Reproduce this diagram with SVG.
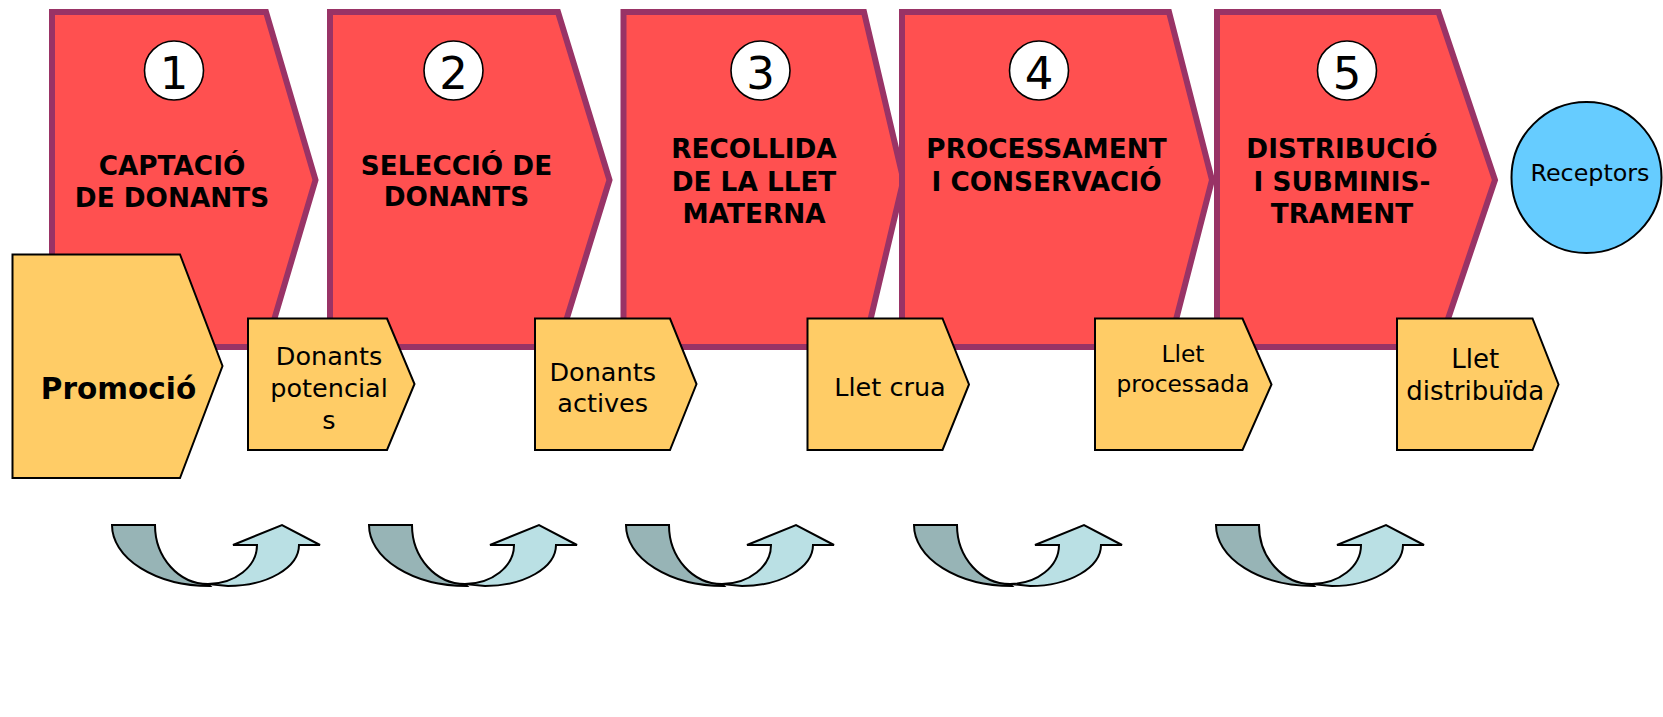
<svg xmlns="http://www.w3.org/2000/svg" xmlns:xlink="http://www.w3.org/1999/xlink" width="1663" height="717" viewBox="0 0 1663 717">
<style>
.stage{fill:#FF5050;stroke:#993366;stroke-width:6;stroke-linejoin:miter}
.num{fill:#FFFFFF;stroke:#000000;stroke-width:1.6}
.numt{font-family:"DejaVu Sans","Verdana",sans-serif;font-size:45px;fill:#000;text-anchor:middle}
.st{font-family:"DejaVu Sans","Verdana",sans-serif;font-weight:bold;font-size:26.3px;fill:#000;text-anchor:middle}
.out{fill:#FFCC66;stroke:#000000;stroke-width:2;stroke-linejoin:miter}
.ot{font-family:"DejaVu Sans","Verdana",sans-serif;font-size:25.5px;fill:#000;text-anchor:middle}
.dark{fill:#97B4B6;stroke:#000;stroke-width:2;stroke-linejoin:miter}
.light{fill:#BAE0E4;stroke:#000;stroke-width:2;stroke-linejoin:miter}
</style>
<defs>
<g id="uturn">
<path class="dark" d="M0,0 H43 A53,59 0 0 0 96,59 L98,61 A98,61 0 0 1 0,0 Z"/>
<path class="light" d="M96,59 A49,39 0 0 0 145,20 H121 L170,0 L208,20 H187 A71,41 0 0 1 116,61 Z"/>
</g>
</defs>

<g id="stage1">
<polygon class="stage" points="52,12 266,12 315.5,180 266,347 52,347"/>
<circle class="num" cx="174" cy="70.5" r="29.5"/>
<text class="numt" x="174" y="89">1</text>
<text class="st" x="172" y="175">CAPTACIÓ</text>
<text class="st" x="172" y="207">DE DONANTS</text>
</g>
<g id="stage2">
<polygon class="stage" points="330,12 558,12 609.5,180 558,347 330,347"/>
<circle class="num" cx="453.5" cy="70.5" r="29.5"/>
<text class="numt" x="453.5" y="89">2</text>
<text class="st" x="456.5" y="175">SELECCIÓ DE</text>
<text class="st" x="456.5" y="205.5">DONANTS</text>
</g>
<g id="stage3">
<polygon class="stage" points="623.5,12 864,12 903.5,180 864,347 623.5,347"/>
<circle class="num" cx="760.5" cy="70.5" r="29.5"/>
<text class="numt" x="760.5" y="89">3</text>
<text class="st" x="754" y="158">RECOLLIDA</text>
<text class="st" x="754" y="190.5">DE LA LLET</text>
<text class="st" x="754" y="223">MATERNA</text>
</g>
<g id="stage4">
<polygon class="stage" points="902,12 1169,12 1212,180 1169,347 902,347"/>
<circle class="num" cx="1039" cy="70.5" r="29.5"/>
<text class="numt" x="1039" y="89">4</text>
<text class="st" x="1046.5" y="158.3">PROCESSAMENT</text>
<text class="st" x="1046.5" y="190.7">I CONSERVACIÓ</text>
</g>
<g id="stage5">
<polygon class="stage" points="1217,12 1438.5,12 1495,180 1438.5,347 1217,347"/>
<circle class="num" cx="1347" cy="70.5" r="29.5"/>
<text class="numt" x="1347" y="89">5</text>
<text class="st" x="1342" y="158">DISTRIBUCIÓ</text>
<text class="st" x="1342" y="191">I SUBMINIS-</text>
<text class="st" x="1342" y="223">TRAMENT</text>
</g>

<g id="receptors">
<ellipse cx="1586.5" cy="177.5" rx="75" ry="75.5" fill="#66CCFF" stroke="#000" stroke-width="2"/>
<text class="ot" x="1590" y="181" style="font-size:23.8px">Receptors</text>
</g>

<g id="promocio">
<polygon class="out" points="12.5,254.5 180,254.5 222.5,366 180,478 12.5,478"/>
<text class="st" x="118.5" y="399" style="font-size:29.5px">Promoció</text>
</g>
<g id="donants-potencials">
<polygon class="out" points="248,318.5 387,318.5 414.5,384 387,450 248,450"/>
<text class="ot" x="329" y="365">Donants</text>
<text class="ot" x="329" y="397">potencial</text>
<text class="ot" x="329" y="429">s</text>
</g>
<g id="donants-actives">
<polygon class="out" points="535,318.5 670,318.5 696.5,384 670,450 535,450"/>
<text class="ot" x="602.7" y="380.7">Donants</text>
<text class="ot" x="602.7" y="411.7">actives</text>
</g>
<g id="llet-crua">
<polygon class="out" points="807.5,318.5 942.5,318.5 969,384.5 942.5,450 807.5,450"/>
<text class="ot" x="890" y="396">Llet crua</text>
</g>
<g id="llet-processada">
<polygon class="out" points="1095,318.5 1242.5,318.5 1271.5,384.5 1242.5,450 1095,450"/>
<text class="ot" x="1183" y="362.3" style="font-size:23.3px">Llet</text>
<text class="ot" x="1183" y="391.7" style="font-size:23.3px">processada</text>
</g>
<g id="llet-distribuida">
<polygon class="out" points="1397,318.5 1532.5,318.5 1558.5,384.5 1532.5,450 1397,450"/>
<text class="ot" x="1475.3" y="368.3" style="font-size:26px">Llet</text>
<text class="ot" x="1475.3" y="400" style="font-size:26px">distribuïda</text>
</g>

<g id="connectors">
<use id="cycle1" xlink:href="#uturn" href="#uturn" x="112" y="525"/>
<use id="cycle2" xlink:href="#uturn" href="#uturn" x="369" y="525"/>
<use id="cycle3" xlink:href="#uturn" href="#uturn" x="626" y="525"/>
<use id="cycle4" xlink:href="#uturn" href="#uturn" x="914" y="525"/>
<use id="cycle5" xlink:href="#uturn" href="#uturn" x="1216" y="525"/>
</g>
</svg>
